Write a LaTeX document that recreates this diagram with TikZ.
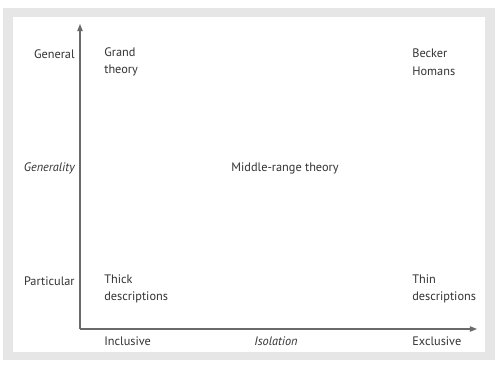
\documentclass[tikz,border=0pt]{standalone}
\usepackage{fontspec}
\setmainfont{PT Sans}
\usetikzlibrary{arrows.meta}
\definecolor{framegray}{HTML}{E6E6E6}
\definecolor{axisgray}{HTML}{6A6A6A}
\definecolor{txt}{HTML}{333333}
\tikzset{
  lbl/.style={font=\fontsize{7pt}{10pt}\selectfont, text=txt, inner sep=0pt, align=left},
  axislbl/.style={lbl, anchor=east},
  axisline/.style={draw=axisgray, line width=0.6pt, -{Triangle[length=4pt,width=3pt]}}
}
\begin{document}
\begin{tikzpicture}[x=0.02cm, y=-0.02cm]
\useasboundingbox (0,0) rectangle (500,365);
\fill[white] (0,0) rectangle (500,365);
\fill[framegray] (3,8) rectangle (495,360);
\fill[white] (13,17) rectangle (485,352);
\coordinate (O) at (80,329);
\coordinate (ytop) at (80,24);
\coordinate (xend) at (477,329);
\draw[axisline] (O) -- (ytop);
\draw[axisline] (O) -- (xend);
\node[axislbl] (gen) at (75,54) {General};
\node[axislbl] (genty) at (75,168) {\itshape Generality};
\node[axislbl] (part) at (75,281) {Particular};
\node[lbl, anchor=west] (grand) at (104,62) {Grand\\theory};
\node[lbl, anchor=west] (becker) at (412,62) {Becker\\Homans};
\node[lbl, anchor=west] (thick) at (104,289) {Thick\\descriptions};
\node[lbl, anchor=west] (thin) at (412,289) {Thin\\descriptions};
\node[lbl] (mid) at (285,168) {Middle-range theory};
\node[lbl] (iso) at (276,341) {\itshape Isolation};
\node[lbl, anchor=west] (incl) at (104,341) {Inclusive};
\node[lbl, anchor=west] (excl) at (412,341) {Exclusive};
\end{tikzpicture}
\end{document}
